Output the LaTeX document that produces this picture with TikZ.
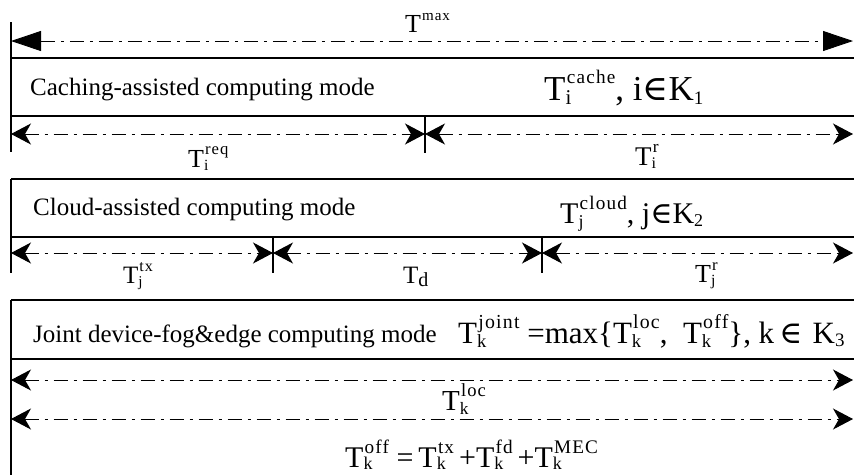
\documentclass[tikz,border=0pt]{standalone}
\usepackage{fontspec}
\setmainfont{Liberation Serif}
\newfontfamily\symf{DejaVu Serif}
\usetikzlibrary{arrows.meta}
\newlength\basem
\newcommand\fs[1]{\fontsize{#1}{#1}\selectfont}
\def\scra{0.6}\def\scrb{0.64}\def\supr{0.46}\def\subl{0.14}\def\supk{0.04}\def\lsp{6}
\newcommand\TS[2]{%
  \setlength\basem{1em}%
  T\begingroup
  \setbox0\hbox{\fontsize{\the\dimexpr\scra\basem\relax}{\the\dimexpr\scra\basem\relax}\selectfont\raisebox{-\subl\basem}{#1}}%
  \setbox2\hbox{\kern\supk\basem\fontsize{\the\dimexpr\scrb\basem\relax}{\the\dimexpr\scrb\basem\relax}\selectfont\addfontfeature{LetterSpace=\lsp}\raisebox{\supr\basem}{#2}}%
  \ifdim\wd0>\wd2 \rlap{\box2}\box0 \else\rlap{\box0}\box2\fi
  \endgroup}
\newcommand\subsc[2]{\raisebox{-0.12em}{\fs{#1}#2}}
\begin{document}
\begin{tikzpicture}[x=1pt,y=-1pt,
  boxline/.style={line width=1.4pt},
  vline/.style={line width=1.2pt},
  dimline/.style={line width=0.9pt, dash pattern=on 14pt off 6pt on 3pt off 6pt},
  bigtip/.style={{Triangle[length=30pt,width=20pt]}-{Triangle[length=30pt,width=20pt]}},
  smalltip/.style={{Stealth[length=20pt,width=21pt,inset=6pt]}-{Stealth[length=20pt,width=21pt,inset=6pt]}},
  lbl/.style={inner sep=0pt, anchor=base west}]
\useasboundingbox (0,0) rectangle (854,475);
% frame lines
\draw[vline] (11,22) -- (11,152);
\draw[vline] (11,179) -- (11,273);
\draw[vline] (11,300) -- (11,475);
\foreach \y in {58,116,179,237,300,359} \draw[boxline] (11,\y) -- (854,\y);
\draw[vline] (425,116) -- (425,153);
\draw[vline] (273,237) -- (273,273);
\draw[vline] (542,237) -- (542,273);
% arrow end points
\coordinate (m0) at (11,41);  \coordinate (m1) at (853,41);
\coordinate (a0) at (11,134); \coordinate (a1) at (425,134); \coordinate (a2) at (853,134);
\coordinate (b0) at (11,253); \coordinate (b1) at (273,253); \coordinate (b2) at (542,253); \coordinate (b3) at (853,253);
\coordinate (c0) at (11,380); \coordinate (c1) at (853,380);
\coordinate (d0) at (11,419); \coordinate (d1) at (853,419);
\draw[dimline,bigtip] (m0) -- (m1);
\draw[dimline,smalltip] (a0) -- (a1);
\draw[dimline,smalltip] (a1) -- (a2);
\draw[dimline,smalltip] (b0) -- (b1);
\draw[dimline,smalltip] (b1) -- (b2);
\draw[dimline,smalltip] (b2) -- (b3);
\draw[dimline,smalltip] (c0) -- (c1);
\draw[dimline,smalltip] (d0) -- (d1);
% labels
\node[lbl] (tmax) at (405,32) {\fs{26}\def\scrb{0.58}\TS{}{max}};
\node[lbl] (cachemode) at (30,95) {\fs{25}Caching-assisted computing mode};
\node[lbl] (tcache) at (544,100) {\fs{35}\def\scrb{0.55}\TS{i}{cache}, i{\symf ∈}K\subsc{19}{1}};
\node[lbl] (treq) at (188,167) {\fs{26}\def\supr{0.5}\TS{i}{req}};
\node[lbl] (tir) at (635,165) {\fs{27}\TS{i}{r}};
\node[lbl] (cloudmode) at (33,215) {\fs{25}Cloud-assisted computing mode};
\node[lbl] (tcloud) at (560,223) {\fs{30}\TS{j}{cloud}, j{\symf ∈}K\subsc{18}{2}};
\node[lbl] (tjtx) at (123,283) {\fs{25}\TS{j}{tx}};
\node[lbl] (td) at (403,283) {\fs{25}\def\scra{0.8}\def\subl{0.14}\TS{d}{}};
\node[lbl] (tjr) at (695,282) {\fs{26}\TS{j}{r}};
\node[lbl] (jointmode) at (33,342) {\fs{25}Joint device-fog\&edge computing mode};
\node[lbl] (tjoint) at (458,343) {\fs{31}\TS{k}{joint}\ =max\{\TS{k}{loc},\ \ \TS{k}{off}\}, k\,{\symf ∈}\,\,K\subsc{19}{3}};
\node[lbl] (tloc) at (442,410) {\fs{29}\TS{k}{loc}};
\node[lbl] (toff) at (345,467) {\fs{30}\def\subl{0.08}\TS{k}{off}\ =\,\TS{k}{tx}\,+\TS{k}{fd}\,+\TS{k}{MEC}};
\end{tikzpicture}
\end{document}
